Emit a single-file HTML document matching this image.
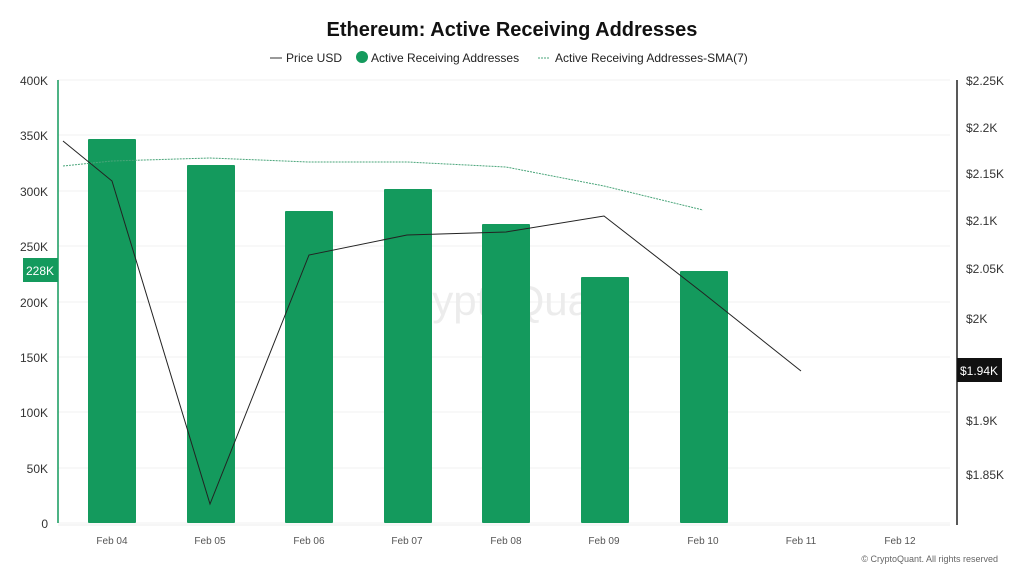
<!DOCTYPE html>
<html><head><style>
body{margin:0;background:#fff;font-family:"Liberation Sans",sans-serif;}
</style></head><body>
<svg width="1024" height="576" xmlns="http://www.w3.org/2000/svg" font-family="Liberation Sans, sans-serif">
<text x="512" y="36" text-anchor="middle" font-size="20" font-weight="bold" fill="#111">Ethereum: Active Receiving Addresses</text>
<line x1="270" y1="58" x2="282" y2="58" stroke="#333"/>
<text x="286" y="62" font-size="12" fill="#222">Price USD</text>
<circle cx="362" cy="57" r="6" fill="#149a5d"/>
<text x="371" y="62" font-size="12" fill="#222">Active Receiving Addresses</text>
<line x1="538" y1="58" x2="550" y2="58" stroke="#4aa57a" stroke-dasharray="2,1"/>
<text x="555" y="62" font-size="12" fill="#222">Active Receiving Addresses-SMA(7)</text>
<g stroke="#f0f0f0">
<line x1="58" y1="80" x2="950" y2="80"/><line x1="58" y1="135" x2="950" y2="135"/><line x1="58" y1="191" x2="950" y2="191"/><line x1="58" y1="246" x2="950" y2="246"/><line x1="58" y1="302" x2="950" y2="302"/><line x1="58" y1="357" x2="950" y2="357"/><line x1="58" y1="412" x2="950" y2="412"/><line x1="58" y1="468" x2="950" y2="468"/><line x1="58" y1="523" x2="950" y2="523"/>
</g>
<text x="507" y="315" text-anchor="middle" font-size="42" fill="#ececec">CryptoQuant</text>
<g font-size="12" fill="#333" text-anchor="end">
<text x="48" y="85">400K</text><text x="48" y="140">350K</text><text x="48" y="196">300K</text><text x="48" y="251">250K</text><text x="48" y="307">200K</text><text x="48" y="362">150K</text><text x="48" y="417">100K</text><text x="48" y="473">50K</text><text x="48" y="528">0</text>
</g>
<g font-size="12" fill="#333">
<text x="966" y="85">$2.25K</text><text x="966" y="132">$2.2K</text><text x="966" y="178">$2.15K</text><text x="966" y="225">$2.1K</text><text x="966" y="273">$2.05K</text><text x="966" y="323">$2K</text><text x="966" y="425">$1.9K</text><text x="966" y="479">$1.85K</text>
</g>
<g fill="#149a5d">
<rect x="88" y="139" width="48" height="384" rx="1"/><rect x="187" y="165" width="48" height="358" rx="1"/><rect x="285" y="211" width="48" height="312" rx="1"/><rect x="384" y="189" width="48" height="334" rx="1"/><rect x="482" y="224" width="48" height="299" rx="1"/><rect x="581" y="277" width="48" height="246" rx="1"/><rect x="680" y="271" width="48" height="252" rx="1"/>
</g>
<polyline points="63,166 112,161 210,158 309,162 407,162 506,167 604,186 703,210" fill="none" stroke="#4aa57a" stroke-width="1" stroke-dasharray="2,1"/>
<polyline points="63,141 112,181 210,504 309,255 407,235 506,232 604,216 703,293 801,371" fill="none" stroke="#222" stroke-width="1"/>
<line x1="58" y1="80" x2="58" y2="523" stroke="#149a5d" stroke-width="1.5"/>
<line x1="957" y1="80" x2="957" y2="525" stroke="#222" stroke-width="1.5"/>
<line x1="58" y1="525" x2="950" y2="525" stroke="#eee"/>
<rect x="23" y="258" width="35" height="24" fill="#149a5d"/>
<text x="40" y="275" font-size="12" fill="#fff" text-anchor="middle">228K</text>
<rect x="957" y="358" width="45" height="24" fill="#111"/>
<text x="979" y="375" font-size="12" fill="#fff" text-anchor="middle">$1.94K</text>
<g font-size="10" fill="#555" text-anchor="middle">
<text x="112" y="544">Feb 04</text><text x="210" y="544">Feb 05</text><text x="309" y="544">Feb 06</text><text x="407" y="544">Feb 07</text><text x="506" y="544">Feb 08</text><text x="604" y="544">Feb 09</text><text x="703" y="544">Feb 10</text><text x="801" y="544">Feb 11</text><text x="900" y="544">Feb 12</text>
</g>
<text x="998" y="562" font-size="9" fill="#666" text-anchor="end">© CryptoQuant. All rights reserved</text>
</svg>
</body></html>
